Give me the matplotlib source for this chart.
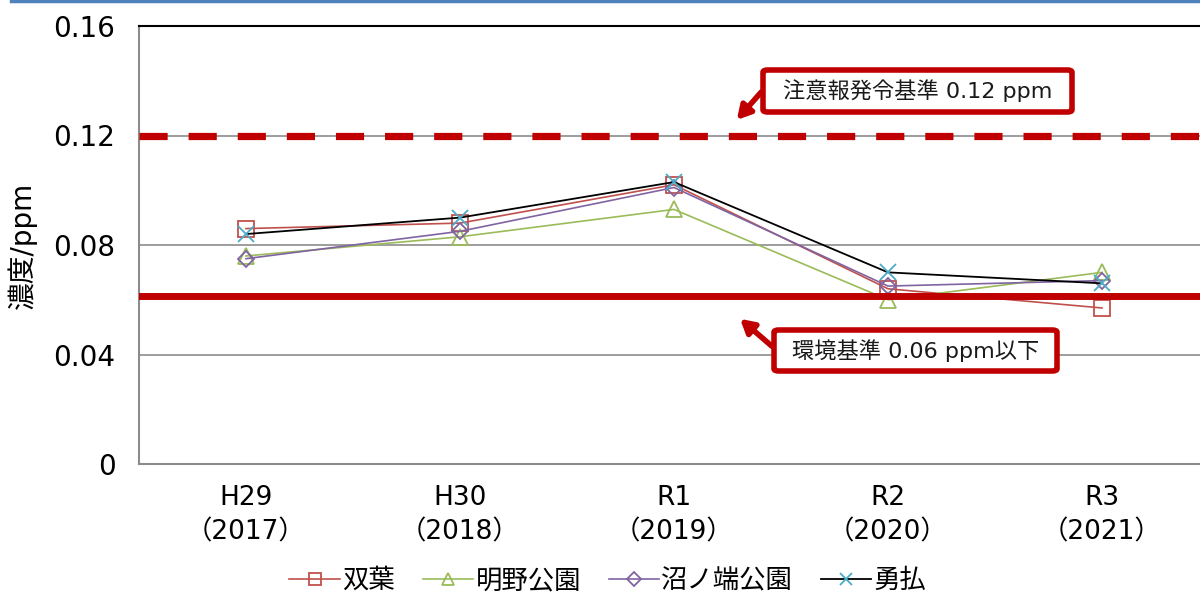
import matplotlib
matplotlib.use("Agg")
import matplotlib.pyplot as plt
from matplotlib.lines import Line2D
from matplotlib.patches import FancyBboxPatch

plt.rcParams['font.family'] = ['DejaVu Sans', 'Noto Sans CJK JP']

categories = ["H29\n（2017）", "H30\n（2018）", "R1\n（2019）", "R2\n（2020）", "R3\n（2021）"]
futaba = [0.086, 0.088, 0.102, 0.064, 0.057]
akeno = [0.076, 0.083, 0.093, 0.060, 0.070]
numanohata = [0.075, 0.085, 0.101, 0.065, 0.067]
yufutsu = [0.084, 0.090, 0.103, 0.070, 0.066]
series_names = ["双葉", "明野公園", "沼ノ端公園", "勇払"]
warning_level = 0.12
standard_level = 0.0613
yticks = [0, 0.04, 0.08, 0.12, 0.16]
ytick_labels = ["0", "0.04", "0.08", "0.12", "0.16"]

W, H = 1200, 597
fig = plt.figure(figsize=(12, 5.97), dpi=100)
ax = fig.add_axes([139 / W, 1 - 464 / H, 1070 / W, 438 / H])

x = list(range(len(categories)))
ax.set_xlim(-0.5, 4.5)
ax.set_ylim(0, 0.16)

# gridlines
for yv in yticks[1:]:
    ax.axhline(yv, color='#8c8c8c', lw=1.2, zorder=1)

ax.plot(x, futaba, color='#C0504D', lw=1.2, marker='s', ms=11, mfc='none', mec='#C0504D', mew=1.3, label=series_names[0], zorder=3)
ax.plot(x, akeno, color='#9BBB59', lw=1.2, marker='^', ms=11, mfc='none', mec='#9BBB59', mew=1.3, label=series_names[1], zorder=3)
ax.plot(x, numanohata, color='#8064A2', lw=1.2, marker='D', ms=8, mfc='none', mec='#8064A2', mew=1.3, label=series_names[2], zorder=3)
ax.plot(x, yufutsu, color='black', lw=1.3, marker='x', ms=11, mec='#4BACC6', mew=1.3, label=series_names[3], zorder=3)

# reference lines
ax.axhline(warning_level, color='#C00000', lw=5.2, dashes=(3.9, 2.9), zorder=4)
ax.axhline(standard_level, color='#C00000', lw=5, zorder=4)

ax.set_yticks(yticks)
ax.set_yticklabels(ytick_labels, fontsize=20)
ax.set_xticks(x)
ax.set_xticklabels(categories, fontsize=19, linespacing=1.45)
ax.tick_params(axis='y', length=0, pad=17)
ax.tick_params(axis='x', length=0, pad=15)

for s in ['left', 'bottom']:
    ax.spines[s].set_color('#8c8c8c')
    ax.spines[s].set_linewidth(1.5)
ax.spines['right'].set_visible(False)
ax.spines['top'].set_color('black')
ax.spines['top'].set_linewidth(1.5)

fig.text(22 / W, 1 - 245 / H, "濃度/ppm", rotation=90, ha='center', va='center', fontsize=20)

# annotations
def fig_xy(px, py):
    return (px / W, 1 - py / H)

ax.annotate("", xy=fig_xy(735, 122), xycoords='figure fraction',
            xytext=fig_xy(763, 90), textcoords='figure fraction',
            arrowprops=dict(arrowstyle='-|>,head_length=0.8,head_width=0.45', color='#C00000', lw=4), zorder=6)
ax.annotate("", xy=fig_xy(738, 317), xycoords='figure fraction',
            xytext=fig_xy(774, 348), textcoords='figure fraction',
            arrowprops=dict(arrowstyle='-|>,head_length=0.8,head_width=0.45', color='#C00000', lw=4), zorder=6)

def box(x0, y0, x1, y1, text):
    p = FancyBboxPatch(fig_xy(x0, y1), (x1 - x0) / W, (y1 - y0) / H,
                       boxstyle='round,pad=0,rounding_size=0.004', transform=fig.transFigure,
                       facecolor='white', edgecolor='#C00000', lw=4, zorder=7)
    fig.add_artist(p)
    fig.text((x0 + x1) / 2 / W, 1 - (y0 + y1) / 2 / H, text, ha='center', va='center',
             fontsize=16, color='#1a1a1a', zorder=8)

box(763, 70, 1072, 112, "注意報発令基準 0.12 ppm")
box(774, 330, 1057, 371, "環境基準 0.06 ppm以下")

# legend
leg = fig.legend(loc='center', bbox_to_anchor=(608 / W, 1 - 581 / H), ncol=4, frameon=False,
                 fontsize=19, handlelength=1.9, handletextpad=0.1, columnspacing=1.05,
                 markerscale=0.85)

# top blue line
fig.add_artist(Line2D([11 / W, 1], [1 - 1 / H, 1 - 1 / H], color='#4F81BD', lw=2.5, transform=fig.transFigure))

fig.savefig("out.png", dpi=100)
